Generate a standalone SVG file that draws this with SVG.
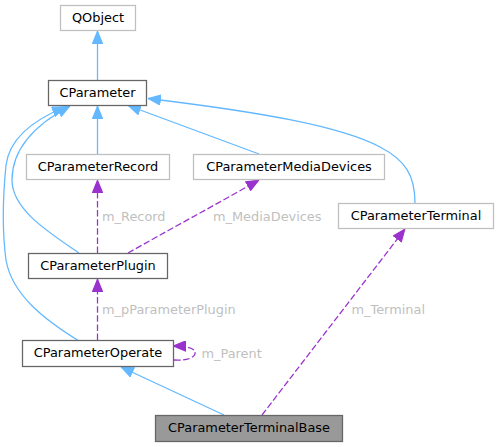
<svg xmlns="http://www.w3.org/2000/svg" width="498" height="447" viewBox="0 0 498 447">
<defs>
<marker id="ab" viewBox="0 0 13 11" refX="13" refY="5.5" markerWidth="13" markerHeight="11" markerUnits="userSpaceOnUse" orient="auto">
<path d="M0.6,0.6 L12.6,5.5 L0.6,10.4 Z" fill="#63b8ff" stroke="#63b8ff" stroke-width="1.2"/>
</marker>
<marker id="ap" viewBox="0 0 13 11" refX="13" refY="5.5" markerWidth="13" markerHeight="11" markerUnits="userSpaceOnUse" orient="auto">
<path d="M0.6,0.6 L12.6,5.5 L0.6,10.4 Z" fill="#9a32cd" stroke="#9a32cd" stroke-width="1.2"/>
</marker>
</defs>
<style>
.n rect{fill:#fff;stroke-width:1.27}
.dk rect{stroke:#666}
.lt rect{stroke:#bfbfbf}
.n text{font-family:"DejaVu Sans",sans-serif;font-size:12.9px;fill:#000;text-anchor:middle}
.b{fill:none;stroke:#63b8ff;stroke-width:1.27;marker-end:url(#ab)}
.p{fill:none;stroke:#9a32cd;stroke-width:1.27;stroke-dasharray:6.5,2.6;marker-end:url(#ap)}
.lb{font-family:"DejaVu Sans",sans-serif;font-size:12.9px;fill:#bfbfbf}
</style>
<g id="edges">
<path class="b" d="M97.5,80 L97.5,31"/>
<path class="b" d="M97.5,154 L97.5,106"/>
<path class="b" d="M259,154 L128,105.5"/>
<path class="b" d="M415,203 C415,175 405,160 380,147 C340,126 260,112 148,98.5"/>
<path class="b" d="M79,253 C50,233 12,210 12,180 C12,145 40,122 70,106"/>
<path class="b" d="M79,341 C45,320 12,295 6,260 C2,230 3,195 6,165 C10,135 38,118 65,107"/>
<path class="b" d="M224,415 L121,367"/>
<path class="p" d="M97.5,253 L97.5,180"/>
<text class="lb" x="102" y="220.5">m_Record</text>
<path class="p" d="M128,253 C165,232 215,205 259,180"/>
<text class="lb" x="213" y="220.5">m_MediaDevices</text>
<path class="p" d="M97.5,340 L97.5,279"/>
<text class="lb" x="102" y="313.5">m_pParameterPlugin</text>
<path class="p" d="M174,360 C188,361 196,357 195,352 C194,348 187,346 173,346"/>
<text class="lb" x="201.5" y="357.5">m_Parent</text>
<path class="p" d="M262,415 L405,229"/>
<text class="lb" x="351.5" y="313.5">m_Terminal</text>
</g>
<g id="QObject" class="n lt"><rect x="60.5" y="5.5" width="75" height="25"/><text x="98" y="21.5">QObject</text></g>
<g id="CParameter" class="n dk"><rect x="48.5" y="80.5" width="98" height="25"/><text x="97.5" y="96.5">CParameter</text></g>
<g id="CParameterRecord" class="n lt"><rect x="26.5" y="154.5" width="143" height="25"/><text x="98" y="170.5">CParameterRecord</text></g>
<g id="CParameterMediaDevices" class="n lt"><rect x="193.5" y="154.5" width="191" height="25"/><text x="289" y="170.5">CParameterMediaDevices</text></g>
<g id="CParameterTerminal" class="n lt"><rect x="338.5" y="203.5" width="155" height="25"/><text x="416" y="219.5">CParameterTerminal</text></g>
<g id="CParameterPlugin" class="n dk"><rect x="28.5" y="253.5" width="139" height="25"/><text x="98" y="269.5">CParameterPlugin</text></g>
<g id="CParameterOperate" class="n dk"><rect x="22.5" y="340.5" width="151" height="26"/><text x="98" y="357">CParameterOperate</text></g>
<g id="CParameterTerminalBase" class="n dk"><rect x="155.5" y="415.5" width="187" height="26" style="fill:#999"/><text x="249" y="432">CParameterTerminalBase</text></g>
</svg>
